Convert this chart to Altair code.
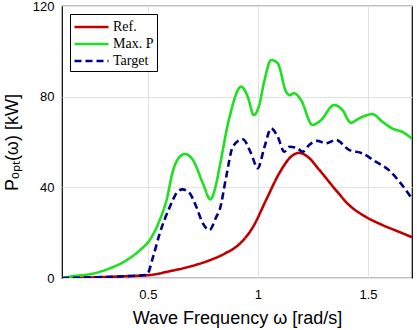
import altair as alt
import pandas as pd

# Ref.
ref_w = [0.11, 0.3, 0.4, 0.509, 0.6, 0.7, 0.78, 0.85, 0.916, 0.977, 1.037, 1.097, 1.15, 1.188,
         1.226, 1.278, 1.354, 1.414, 1.49, 1.565, 1.64, 1.7]
ref_p = [0, 0.4, 0.8, 1.3, 3, 5.3, 7.8, 10.8, 15, 22.4, 34.4, 46.2, 53.5, 55.2,
         53.5, 47.8, 38.8, 32.2, 27, 23.4, 20.4, 18]

# Max. P
max_w = [0.11, 0.147, 0.253, 0.328, 0.404, 0.464, 0.509, 0.554, 0.585, 0.615, 0.645, 0.668,
         0.705, 0.75, 0.784, 0.811, 0.826, 0.871, 0.924, 0.954, 0.981, 1.004, 1.03, 1.06,
         1.09, 1.128, 1.143, 1.165, 1.196, 1.248, 1.285, 1.346, 1.384, 1.422, 1.459, 1.52,
         1.565, 1.61, 1.655, 1.7]
max_p = [0, 0.6, 2, 4.3, 7.9, 12.3, 16.8, 25.6, 34.4, 47.6, 53.5, 54.7,
         52, 41.8, 34.7, 41.8, 49, 71, 84.4, 80, 71.9, 75.6, 87.3, 96.2,
         94.7, 82.2, 80.7, 81.5, 78.5, 67.5, 69.5, 76.3, 74.1, 68.5, 70.4, 72.3,
         69, 66, 64.5, 61.5]

# Target
tgt_w = [0.11, 0.3, 0.4, 0.495, 0.524, 0.554, 0.6, 0.63, 0.657, 0.69, 0.72, 0.75, 0.78,
         0.811, 0.826, 0.856, 0.886, 0.931, 0.969, 0.999, 1.03, 1.06, 1.09, 1.12, 1.143,
         1.18, 1.203, 1.233, 1.27, 1.309, 1.354, 1.414, 1.474, 1.535, 1.595, 1.655, 1.7]
tgt_p = [0, 0.4, 0.8, 1.4, 9.4, 19.7, 31.4, 37.4, 39.1, 37.4, 31.4, 24.1, 21.2,
         27, 30, 44.7, 57.9, 61.2, 55, 48.4, 57.9, 66, 62.3, 55.7, 57.9,
         57.2, 55.7, 58.7, 60.5, 59.4, 60.9, 56.5, 55, 51.3, 47.6, 41, 35]

series = ["Ref.", "Max. P", "Target"]
colors = ["#c00000", "#1ee01e", "#00008b"]
dashes = [[1, 0], [1, 0], [7, 4]]

rows = []
for name, ws, ps in [("Ref.", ref_w, ref_p), ("Max. P", max_w, max_p), ("Target", tgt_w, tgt_p)]:
    for i, (w, p) in enumerate(zip(ws, ps)):
        rows.append({"series": name, "w": w, "p": p, "order": i})
df = pd.DataFrame(rows)

legend_cfg = dict(title=None, orient="none", legendX=8, legendY=8,
                  symbolType="M -1 0 H 3", symbolSize=289, symbolStrokeWidth=2.6,
                  labelFont="Liberation Serif", labelFontSize=14, labelColor="black",
                  labelOffset=20, strokeColor="black", fillColor="white",
                  padding=3, rowPadding=0)

chart = alt.Chart(df).mark_line(strokeWidth=2.6, interpolate="monotone", clip=True).encode(
    x=alt.X("w:Q", scale=alt.Scale(domain=[0.11, 1.7], nice=False, zero=False),
            axis=alt.Axis(values=[0.5, 1, 1.5], format="~g", title="Wave Frequency ω [rad/s]",
                          titleY=40, titleBaseline="middle")),
    y=alt.Y("p:Q", scale=alt.Scale(domain=[0, 120], nice=False),
            axis=alt.Axis(values=[0, 40, 80, 120], title="Pₒₚₜ(ω) [kW]",
                          titleX=-50, titleY=136, titleAngle=270, titleAlign="center",
                          titleBaseline="middle")),
    color=alt.Color("series:N", scale=alt.Scale(domain=series, range=colors),
                    legend=alt.Legend(**legend_cfg)),
    strokeDash=alt.StrokeDash("series:N", scale=alt.Scale(domain=series, range=dashes),
                              legend=alt.Legend(**legend_cfg)),
    order="order:Q",
).properties(
    width=350, height=272,
    autosize=alt.AutoSizeParams(type="none"),
    padding={"left": 62, "top": 6, "right": 5, "bottom": 52},
).configure_view(
    stroke="black", strokeWidth=1.2
).configure_axis(
    labelFont="Liberation Sans", labelFontSize=13, labelColor="black",
    titleFont="Liberation Sans", titleFontSize=18, titleFontWeight="normal", titleColor="black",
    domain=False, ticks=False, grid=True, gridColor="#e2e2e2", gridWidth=1,
    labelPadding=8,
).configure_axisX(labelPadding=10)

chart.save("out.html", embed_options={"renderer": "svg", "actions": False})
